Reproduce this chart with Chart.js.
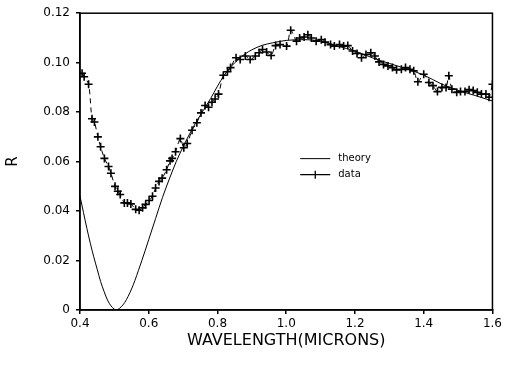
<!DOCTYPE html>
<html>
<head>
<meta charset="utf-8">
<script src="https://cdn.jsdelivr.net/npm/chart.js@4/dist/chart.umd.min.js"></script>
<style>
html,body{margin:0;padding:0;background:#fff;}
#wrap{width:505px;height:369px;position:relative;}
</style>
</head>
<body>
<div id="wrap"><canvas id="c" width="505" height="369"></canvas></div>
<script>
// ---- data ----
const xTickValues = [0.4, 0.6, 0.8, 1.0, 1.2, 1.4, 1.6];
const xTickLabels = ["0.4", "0.6", "0.8", "1.0", "1.2", "1.4", "1.6"];
const yTickValues = [0, 0.02, 0.04, 0.06, 0.08, 0.10, 0.12];
const yTickLabels = ["0", "0.02", "0.04", "0.06", "0.08", "0.10", "0.12"];
const xTitle = "WAVELENGTH(MICRONS)";
const yTitle = "R";
const legendLabels = ["theory", "data"];

const theoryX = [0.400,0.410,0.420,0.430,0.440,0.450,0.460,0.470,0.480,0.490,0.500,0.505,0.510,0.520,0.530,0.540,0.550,0.560,0.570,0.580,0.600,0.620,0.640,0.660,0.680,0.700,0.720,0.740,0.760,0.780,0.800,0.820,0.840,0.860,0.880,0.900,0.930,0.960,1.000,1.050,1.100,1.150,1.200,1.250,1.300,1.350,1.400,1.450,1.500,1.550,1.600];
const theoryR = [0.0460,0.0395,0.0330,0.0270,0.0215,0.0165,0.0115,0.0075,0.0040,0.0017,0.0003,0.0000,0.0002,0.0013,0.0030,0.0055,0.0085,0.0120,0.0160,0.0200,0.0285,0.0370,0.0455,0.0530,0.0600,0.0660,0.0715,0.0765,0.0810,0.0855,0.0905,0.0950,0.0985,0.1012,0.1035,0.1052,0.1070,0.1080,0.1090,0.1093,0.1087,0.1067,0.1047,0.1020,0.0997,0.0975,0.0950,0.0915,0.0888,0.0867,0.0845];

const dataX = [0.406,0.412,0.425,0.435,0.442,0.452,0.460,0.471,0.483,0.490,0.502,0.510,0.517,0.529,0.538,0.548,0.562,0.572,0.582,0.591,0.601,0.611,0.620,0.630,0.639,0.652,0.662,0.668,0.678,0.692,0.702,0.712,0.726,0.740,0.752,0.764,0.774,0.784,0.793,0.803,0.817,0.829,0.838,0.854,0.866,0.881,0.895,0.910,0.921,0.931,0.943,0.956,0.969,0.982,1.001,1.013,1.030,1.039,1.052,1.063,1.073,1.087,1.102,1.113,1.129,1.140,1.155,1.167,1.179,1.193,1.206,1.219,1.232,1.246,1.258,1.270,1.283,1.296,1.309,1.321,1.335,1.347,1.360,1.371,1.383,1.400,1.415,1.427,1.440,1.453,1.465,1.473,1.482,1.496,1.507,1.520,1.532,1.544,1.556,1.568,1.581,1.590,1.600];
const dataR = [0.0957,0.0943,0.0913,0.0773,0.0760,0.0700,0.0660,0.0613,0.0580,0.0553,0.0500,0.0480,0.0467,0.0433,0.0433,0.0429,0.0407,0.0403,0.0413,0.0427,0.0443,0.0460,0.0493,0.0520,0.0533,0.0567,0.0603,0.0613,0.0640,0.0693,0.0656,0.0673,0.0727,0.0757,0.0797,0.0827,0.0820,0.0840,0.0853,0.0873,0.0949,0.0963,0.0980,0.1020,0.1013,0.1027,0.1013,0.1027,0.1040,0.1053,0.1043,0.1029,0.1069,0.1073,0.1067,0.1131,0.1087,0.1100,0.1104,0.1113,0.1100,0.1087,0.1093,0.1083,0.1073,0.1067,0.1073,0.1067,0.1069,0.1047,0.1037,0.1020,0.1033,0.1040,0.1027,0.1003,0.0993,0.0987,0.0980,0.0971,0.0973,0.0980,0.0973,0.0967,0.0923,0.0953,0.0920,0.0907,0.0883,0.0900,0.0900,0.0947,0.0893,0.0880,0.0883,0.0883,0.0891,0.0887,0.0880,0.0873,0.0873,0.0860,0.0913];

// ---- build chart ----
const FONT = "'DejaVu Sans', sans-serif";
const toPts = (xs, ys) => xs.map((x, i) => ({x: x, y: ys[i]}));

const whiteBg = {
  id: 'whiteBg',
  beforeDraw(chart) {
    const ctx = chart.ctx;
    ctx.save();
    ctx.fillStyle = '#fff';
    ctx.fillRect(0, 0, chart.width, chart.height);
    ctx.restore();
  }
};

const frameAndLegend = {
  id: 'frameAndLegend',
  afterDraw(chart) {
    const ctx = chart.ctx;
    const a = chart.chartArea;
    ctx.save();
    ctx.strokeStyle = '#000';
    ctx.lineWidth = 1.5;
    ctx.strokeRect(a.left, a.top, a.right - a.left, a.bottom - a.top);

    // legend inside the plot
    const x0 = a.left + (a.right - a.left) * 0.534;
    const len = 30;
    const y1 = a.top + (a.bottom - a.top) * 0.49;
    const y2 = y1 + 16;
    ctx.lineWidth = 1;
    ctx.beginPath();
    ctx.moveTo(x0, y1); ctx.lineTo(x0 + len, y1);
    ctx.stroke();
    ctx.lineWidth = 1.3;
    ctx.beginPath();
    ctx.moveTo(x0, y2); ctx.lineTo(x0 + len, y2);
    const cx = x0 + len / 2;
    ctx.moveTo(cx - 4, y2); ctx.lineTo(cx + 4, y2);
    ctx.moveTo(cx, y2 - 4); ctx.lineTo(cx, y2 + 4);
    ctx.stroke();
    ctx.fillStyle = '#000';
    ctx.font = "10px " + FONT;
    ctx.textBaseline = 'middle';
    ctx.textAlign = 'left';
    ctx.fillText(legendLabels[0], x0 + len + 8, y1);
    ctx.fillText(legendLabels[1], x0 + len + 8, y2);
    ctx.restore();
  }
};

new Chart(document.getElementById('c'), {
  type: 'scatter',
  data: {
    datasets: [
      {
        label: legendLabels[0],
        data: toPts(theoryX, theoryR),
        showLine: true,
        borderColor: '#000',
        borderWidth: 1,
        pointRadius: 0,
        cubicInterpolationMode: 'monotone',
        fill: false
      },
      {
        label: legendLabels[1],
        data: toPts(dataX, dataR),
        showLine: true,
        borderColor: '#000',
        borderWidth: 1,
        borderDash: [5, 4],
        tension: 0.3,
        pointStyle: 'cross',
        pointRadius: 4,
        pointBorderWidth: 1.6,
        pointBorderColor: '#000',
        pointBackgroundColor: '#000',
        fill: false
      }
    ]
  },
  options: {
    responsive: false,
    animation: false,
    devicePixelRatio: 1,
    layout: { padding: { left: 0, right: 9, top: 10, bottom: 0 } },
    plugins: {
      legend: { display: false },
      tooltip: { enabled: false }
    },
    scales: {
      x: {
        type: 'linear',
        min: 0.4, max: 1.6,
        afterBuildTicks(scale) { scale.ticks = xTickValues.map(v => ({value: v})); },
        afterFit(scale) { scale.height = 59; },
        ticks: {
          color: '#000',
          font: { family: FONT, size: 12 },
          padding: 3,
          maxRotation: 0,
          autoSkip: false,
          callback(value, index) { return xTickLabels[index]; }
        },
        grid: { drawOnChartArea: false, drawTicks: true, tickLength: 4, color: '#000', lineWidth: 1.5 },
        border: { display: true, color: '#000', width: 1.5 },
        title: {
          display: true, text: xTitle, color: '#000',
          font: { family: FONT, size: 16 },
          padding: { top: 4, bottom: 19 }
        }
      },
      y: {
        type: 'linear',
        min: 0, max: 0.12,
        afterBuildTicks(scale) { scale.ticks = yTickValues.map(v => ({value: v})); },
        afterFit(scale) { scale.width = 80; },
        ticks: {
          color: '#000',
          font: { family: FONT, size: 12 },
          padding: 6,
          autoSkip: false,
          callback(value, index) { return yTickLabels[index]; }
        },
        grid: { drawOnChartArea: false, drawTicks: true, tickLength: 4, color: '#000', lineWidth: 1.5 },
        border: { display: true, color: '#000', width: 1.5 },
        title: {
          display: true, text: yTitle, color: '#000',
          font: { family: FONT, size: 15 },
          padding: { top: 4, bottom: 4 }
        }
      }
    }
  },
  plugins: [whiteBg, frameAndLegend]
});
</script>
</body>
</html>
